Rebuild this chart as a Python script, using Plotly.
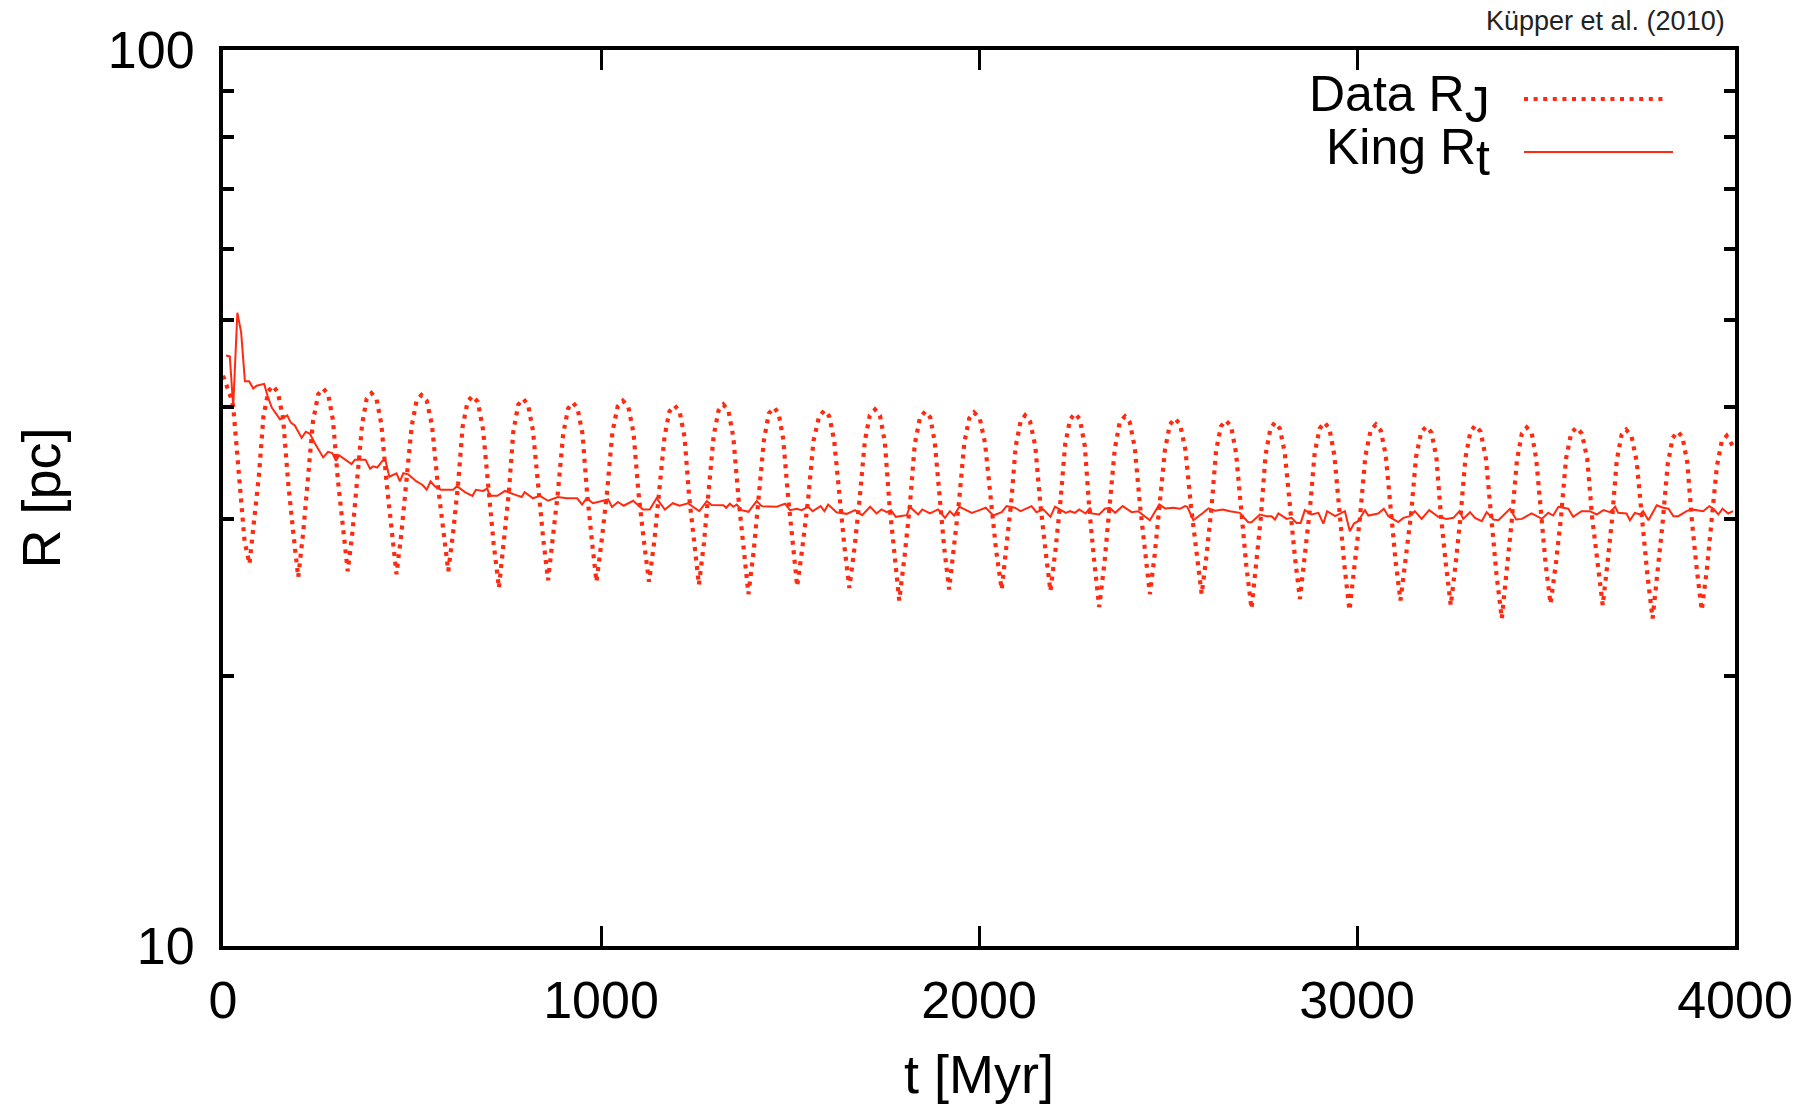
import plotly.graph_objects as go

# ---------------- data ----------------
# Data R_J (dotted): time [Myr]
t_rj = [0, 9, 18, 27, 35, 48, 57,
        70, 82, 95, 107, 120, 132, 145, 159, 172, 186,
        199, 212, 225, 238, 252, 265, 278, 291, 304, 317,
        330, 343, 355, 368, 380, 393, 406, 419, 433, 446,
        459, 472, 485, 499, 512, 525, 539, 553, 568, 582,
        596, 609, 622, 634, 647, 660, 674, 688, 702, 716,
        730, 743, 756, 768, 781, 794, 807, 820, 834, 847,
        860, 873, 886, 900, 913, 926, 938, 951, 963, 976,
        988, 1002, 1016, 1030, 1044, 1058, 1072, 1086, 1099, 1113,
        1127, 1141, 1154, 1168, 1181, 1195, 1208, 1221, 1233, 1246,
        1259, 1272, 1285, 1298, 1311, 1324, 1337, 1350, 1364, 1377,
        1390, 1404, 1417, 1431, 1444, 1458, 1470, 1482, 1495, 1507,
        1519, 1533, 1548, 1562, 1577, 1591, 1604, 1617, 1631, 1644,
        1657, 1671, 1684, 1698, 1711, 1725, 1738, 1751, 1763, 1776,
        1789, 1803, 1817, 1830, 1844, 1858, 1871, 1883, 1896, 1908,
        1921, 1934, 1947, 1961, 1974, 1987, 2002, 2016, 2031, 2045,
        2060, 2072, 2085, 2097, 2110, 2122, 2135, 2149, 2162, 2176,
        2189, 2202, 2215, 2228, 2241, 2254, 2267, 2280, 2292, 2305,
        2318, 2332, 2345, 2359, 2372, 2386, 2399, 2412, 2426, 2439,
        2452, 2465, 2478, 2492, 2505, 2518, 2532, 2546, 2561, 2575,
        2589, 2602, 2615, 2627, 2640, 2653, 2667, 2680, 2694, 2707,
        2721, 2733, 2746, 2758, 2771, 2783, 2796, 2809, 2823, 2836,
        2849, 2862, 2875, 2888, 2901, 2914, 2927, 2940, 2954, 2967,
        2980, 2994, 3008, 3022, 3036, 3050, 3063, 3076, 3089, 3102,
        3115, 3129, 3143, 3156, 3170, 3184, 3197, 3210, 3222, 3235,
        3248, 3261, 3274, 3287, 3300, 3313, 3327, 3341, 3355, 3369,
        3383, 3396, 3409, 3423, 3436, 3449, 3462, 3474, 3487, 3499,
        3512, 3526, 3540, 3553, 3567, 3581, 3595, 3609, 3622, 3636,
        3650, 3662, 3675, 3687, 3700, 3712, 3726, 3740, 3754, 3768,
        3782, 3795, 3808, 3822, 3835, 3848, 3861, 3874, 3886, 3899,
        3912, 3925, 3938, 3952, 3965, 3978, 3995, 4000]
# Data R_J (dotted): radius [pc]
r_rj = [43.3, 42.4, 41.3, 40.0, 36.5, 31.0, 28.3,
        26.7, 29.7, 33.5, 39.0, 41.6, 42.2, 41.5, 38.8, 33.0, 28.9,
        25.8, 28.9, 32.9, 38.5, 41.3, 41.9, 41.3, 38.6, 33.1, 29.2,
        26.2, 29.1, 32.9, 38.2, 40.8, 41.4, 40.8, 38.2, 32.8, 28.9,
        26.0, 28.9, 32.7, 38.0, 40.6, 41.2, 40.6, 38.1, 32.8, 29.1,
        26.2, 29.0, 32.8, 38.0, 40.5, 41.1, 40.5, 37.7, 32.1, 28.1,
        25.1, 28.1, 32.0, 37.5, 40.2, 40.8, 40.2, 37.6, 32.3, 28.5,
        25.6, 28.4, 32.1, 37.3, 39.8, 40.4, 39.8, 37.3, 32.1, 28.3,
        25.5, 28.4, 32.1, 37.4, 40.0, 40.6, 40.0, 37.4, 32.1, 28.4,
        25.5, 28.3, 31.9, 37.0, 39.5, 40.1, 39.5, 37.0, 31.8, 28.1,
        25.3, 28.1, 31.9, 37.1, 39.6, 40.2, 39.6, 37.0, 31.5, 27.6,
        24.7, 27.6, 31.4, 36.7, 39.3, 39.9, 39.3, 36.8, 31.7, 28.0,
        25.2, 27.9, 31.5, 36.6, 39.0, 39.6, 39.0, 36.6, 31.5, 27.9,
        25.1, 27.9, 31.5, 36.6, 39.1, 39.7, 39.1, 36.5, 31.1, 27.2,
        24.3, 27.2, 31.0, 36.3, 38.9, 39.5, 38.9, 36.5, 31.4, 27.8,
        25.0, 27.7, 31.3, 36.4, 38.8, 39.4, 38.8, 36.4, 31.3, 27.7,
        25.0, 27.7, 31.2, 36.1, 38.5, 39.1, 38.5, 36.1, 31.2, 27.6,
        24.9, 27.6, 31.2, 36.3, 38.7, 39.3, 38.7, 36.1, 30.7, 26.8,
        23.9, 26.8, 30.5, 35.8, 38.4, 39.0, 38.4, 36.0, 31.0, 27.4,
        24.7, 27.4, 30.9, 35.8, 38.2, 38.8, 38.2, 35.8, 30.9, 27.4,
        24.7, 27.3, 30.8, 35.7, 38.0, 38.6, 38.0, 35.5, 30.3, 26.6,
        23.8, 26.6, 30.2, 35.3, 37.8, 38.4, 37.8, 35.5, 30.6, 27.1,
        24.4, 27.1, 30.6, 35.5, 37.8, 38.4, 37.8, 35.3, 30.2, 26.5,
        23.7, 26.5, 30.1, 35.2, 37.6, 38.2, 37.6, 35.3, 30.4, 26.9,
        24.3, 26.9, 30.3, 35.1, 37.5, 38.0, 37.4, 35.1, 30.2, 26.7,
        24.0, 26.7, 30.2, 35.1, 37.5, 38.1, 37.5, 35.0, 29.8, 26.0,
        23.2, 26.0, 29.7, 34.8, 37.3, 37.9, 37.4, 35.0, 30.2, 26.7,
        24.1, 26.7, 30.2, 35.0, 37.4, 37.9, 37.3, 35.0, 30.1, 26.6,
        24.0, 26.6, 30.0, 34.8, 37.2, 37.7, 37.1, 34.7, 29.6, 26.0,
        23.2, 25.9, 29.5, 34.5, 36.9, 37.5, 37.0, 34.6, 29.8, 26.3,
        23.7, 26.2, 29.6, 34.3, 36.6, 37.1, 36.1, 35.8]

# King R_t (solid): time [Myr]
t_king = [8, 18, 27, 38, 48, 58, 69, 80, 89, 109, 118, 129, 151, 170, 179, 190,
          208, 219, 230, 243, 265, 278, 289, 299, 307, 323, 340, 349, 377, 389,
          397, 408, 422, 430, 440, 459, 468, 477, 490, 512, 528, 539, 549, 560,
          576, 609, 619, 640, 660, 669, 688, 699, 706, 726, 746, 772, 790, 798,
          820, 838, 860, 886, 909, 937, 950, 962, 979, 1005, 1019, 1029, 1045,
          1060, 1085, 1111, 1129, 1147, 1169, 1190, 1208, 1230,
          1260, 1280, 1293, 1324, 1331, 1341, 1350, 1359, 1372, 1390, 1412,
          1425, 1465, 1487, 1500, 1518, 1531, 1548, 1560, 1581, 1591, 1601,
          1623, 1650, 1672, 1691, 1712, 1729, 1742, 1756, 1767, 1780, 1809,
          1817, 1839, 1850, 1870, 1892, 1910, 1923, 1934, 1948, 1981, 1994,
          2018, 2038, 2060, 2073, 2095, 2110, 2139, 2152, 2170, 2189, 2201,
          2230, 2241, 2254, 2265, 2282, 2294, 2298, 2318, 2333, 2346, 2360,
          2380, 2404, 2421, 2452, 2477, 2492, 2514, 2532, 2545, 2551, 2567,
          2593, 2607, 2625, 2645,
          2664, 2690, 2712, 2721, 2743, 2761, 2774, 2783, 2792, 2814, 2827,
          2840, 2851, 2862, 2880, 2898, 2911, 2921, 2942, 2959, 2968, 2981,
          2992, 3003, 3021, 3030, 3056, 3071, 3083, 3109, 3123, 3140, 3153,
          3171, 3191, 3215, 3237, 3255, 3271, 3281, 3299, 3312, 3330, 3343,
          3361, 3374, 3405, 3421, 3436, 3462, 3489, 3506, 3519, 3533, 3559,
          3572, 3594, 3616, 3634, 3652, 3669, 3683, 3691, 3713, 3722, 3735,
          3749, 3757, 3771, 3793, 3810, 3824, 3837, 3850, 3872, 3885, 3916,
          3932, 3943, 3956, 3967, 3982, 3995]
# King R_t (solid): radius [pc]
r_king = [45.6, 45.5, 40.0, 50.9, 48.4, 42.7, 42.7, 41.9, 42.2, 42.4, 41.1, 39.9,
          38.7, 39.1, 38.4, 38.1, 36.9, 37.5, 37.3, 36.4, 35.1, 35.6, 35.5, 34.8,
          35.3, 34.9, 34.5, 34.9, 34.9, 34.1, 34.3, 34.2, 34.8, 34.8, 33.4, 33.7,
          33.0, 33.7, 33.6, 33.0, 32.7, 32.3, 33.0, 32.6, 32.3, 32.3, 32.6, 32.1,
          31.8, 32.3, 32.2, 32.4, 31.8, 31.8, 32.2, 31.9, 31.7, 32.1, 31.6, 31.8,
          31.4, 31.7, 31.6, 31.6, 31.1, 31.6, 31.2, 31.4, 31.5, 30.9, 31.3, 31.0,
          31.4, 30.7, 30.7, 31.6, 30.7, 31.2, 31.0, 31.2,
          30.57, 31.37, 31.05, 31.03, 30.84, 31.16, 30.92, 31.10, 30.65, 30.52,
          31.37, 30.97, 30.92, 31.16, 30.65, 30.76, 30.65, 30.92, 30.57, 30.97,
          30.57, 31.10, 30.49, 30.36, 30.65, 30.26, 30.92, 30.39, 30.71, 30.49,
          30.65, 30.13, 30.26, 30.92, 30.31, 30.71, 30.39, 30.71, 30.05, 30.57,
          30.23, 30.92, 30.44, 30.57, 30.84, 30.23, 30.49, 30.97, 30.84, 30.57,
          30.97, 30.49, 30.71, 30.13, 30.92, 30.44, 30.57, 30.44, 30.71, 30.39,
          30.84, 30.39, 30.31, 30.76, 30.84, 30.44, 30.97, 30.49, 30.57, 29.87,
          31.10, 30.79, 30.84, 30.76, 30.97, 30.92, 29.87, 30.44, 30.79, 30.60,
          30.70,
          30.57, 30.44, 29.72, 29.72, 30.31, 30.18, 30.18, 29.92, 30.39, 29.97,
          30.05, 29.66, 29.66, 30.65, 30.31, 30.44, 29.61, 30.57, 30.18, 30.44,
          30.57, 29.03, 29.61, 29.79, 30.65, 30.23, 30.39, 30.76, 30.18, 29.72,
          30.05, 30.18, 30.57, 29.97, 30.65, 30.13, 29.97, 30.05, 30.57, 29.97,
          30.49, 30.05, 29.79, 30.49, 29.92, 29.87, 30.76, 29.92, 29.97, 30.39,
          29.97, 30.44, 30.23, 30.92, 30.76, 30.13, 30.57, 30.57, 30.31, 30.65,
          30.49, 30.92, 30.44, 30.39, 29.87, 30.44, 30.31, 30.57, 29.87, 31.03,
          30.84, 30.76, 30.18, 30.18, 30.57, 30.71, 30.57, 30.97, 30.76, 30.31,
          30.76, 30.39, 30.57]

x_tickvals = [0, 1000, 2000, 3000, 4000]
x_ticktext = ["0", "1000", "2000", "3000", "4000"]
y_tickvals = [10, 100]
y_ticktext = ["10", "100"]
y_minor_tickvals = [20, 30, 40, 50, 60, 70, 80, 90]

legend_names = ["Data R<sub><span style='font-size:50px'>J</span></sub>",
                "King R<sub><span style='font-size:50px'>t</span></sub>"]
credit = "Küpper et al. (2010)"

# ---------------- styling ----------------
RED = "#FF2A10"
FONT = "Liberation Sans, Arial, Helvetica, sans-serif"
W, H = 1813, 1107
L, T = 223, 50
R = W - 1735
B = H - 946
PW, PH = W - L - R, H - T - B
DOT = "4px,5.6px"


def px(x):  # page pixel -> paper fraction
    return (x - L) / PW


def py(y):
    return (H - B - y) / PH


fig = go.Figure()
fig.add_trace(go.Scatter(x=t_rj, y=r_rj, mode="lines", name="Data R_J",
                         line=dict(color=RED, width=4.2, dash=DOT),
                         showlegend=False))
fig.add_trace(go.Scatter(x=t_king, y=r_king, mode="lines", name="King R_t",
                         line=dict(color=RED, width=2), showlegend=False))

fig.update_layout(
    width=W, height=H,
    margin=dict(l=L, r=R, t=T, b=B, autoexpand=False),
    plot_bgcolor="white", paper_bgcolor="white",
    font=dict(family=FONT, size=52, color="black"),
    showlegend=False,
)

fig.update_xaxes(
    range=[0, 4000], tickvals=x_tickvals, ticktext=x_ticktext,
    ticks="inside", ticklen=20, tickwidth=2.5, tickcolor="black",
    showline=True, linewidth=4, linecolor="black", mirror="ticks",
    showgrid=False, zeroline=False, automargin=False,
    tickfont=dict(size=52), ticklabelstandoff=6,
    title=dict(text="t [Myr]", font=dict(size=54), standoff=28),
)
fig.update_yaxes(
    type="log", range=[1, 2], tickvals=y_tickvals, ticktext=y_ticktext,
    ticks="inside", ticklen=20, tickwidth=3, tickcolor="black",
    minor=dict(tickvals=y_minor_tickvals, ticks="inside", ticklen=11,
               tickwidth=3.5, tickcolor="black", showgrid=False),
    showline=True, linewidth=4, linecolor="black", mirror="ticks",
    showgrid=False, zeroline=False, automargin=False,
    tickfont=dict(size=52), ticklabelstandoff=14,
    title=dict(text="R [pc]", font=dict(size=54), standoff=31),
)

# gnuplot-style key: text on the left, line sample on the right
key_y = [99, 152]
key_dash = [DOT, None]
key_width = [4.2, 2]
key_x1 = [1668, 1673]
for name, yy, dsh, lw, x1 in zip(legend_names, key_y, key_dash, key_width, key_x1):
    fig.add_annotation(x=px(1492), y=py(yy), xref="paper", yref="paper",
                       text=name, showarrow=False, xanchor="right", yanchor="middle",
                       font=dict(size=50, color="black", family=FONT))
    fig.add_shape(type="line", xref="paper", yref="paper",
                  x0=px(1524), x1=px(x1), y0=py(yy), y1=py(yy),
                  line=dict(color=RED, width=lw, dash=dsh) if dsh else dict(color=RED, width=lw))

fig.add_annotation(x=px(1727), y=py(21), xref="paper", yref="paper",
                   text=credit, showarrow=False, xanchor="right", yanchor="middle",
                   font=dict(size=27, color="#222222", family=FONT))

# remove the browser's default 8px body margin so the figure fills the window exactly
fig.write_html("out.html", config={"displayModeBar": False},
               post_script="document.body.style.margin='0px';")
